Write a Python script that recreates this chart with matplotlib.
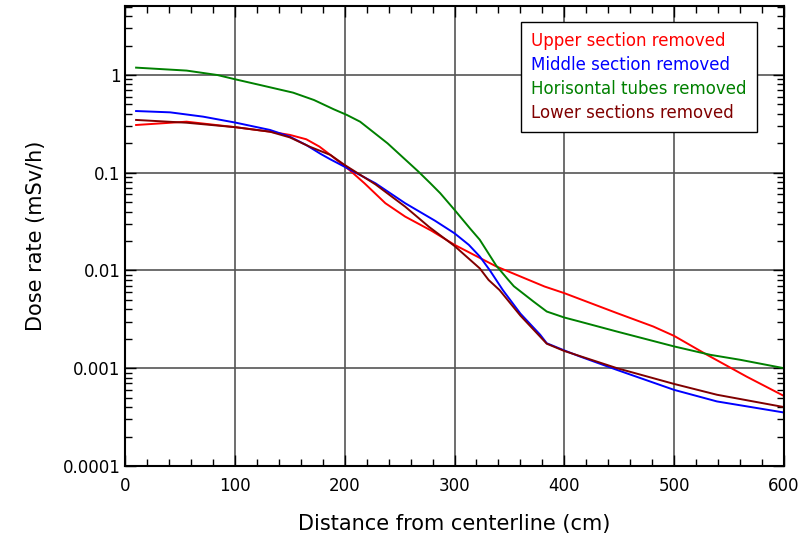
import numpy as np
import matplotlib
matplotlib.use("Agg")
import matplotlib.pyplot as plt
from matplotlib.ticker import FixedLocator, LogLocator, FuncFormatter, MultipleLocator

# distance from centerline (cm) and dose rate (mSv/h)
x_upper = [10, 56, 101, 132, 150, 165, 177, 187, 205, 218, 237, 255, 279, 300, 338, 382, 400,
           448, 481, 500, 530, 566, 600]
y_upper = [0.308, 0.333, 0.292, 0.263, 0.244, 0.22, 0.185, 0.152, 0.105, 0.078, 0.0488, 0.0356,
           0.0255, 0.0183, 0.011, 0.00685, 0.00586, 0.00366, 0.00267, 0.00214, 0.00137, 0.00082, 0.00052]

x_middle = [10, 41, 71, 101, 132, 150, 165, 178, 187, 200, 228, 255, 282, 300, 313, 323, 332, 344,
            360, 378, 384, 400, 414, 448, 500, 539, 600]
y_middle = [0.428, 0.415, 0.375, 0.325, 0.274, 0.234, 0.192, 0.156, 0.137, 0.115, 0.078, 0.0488,
            0.0324, 0.024, 0.0183, 0.0139, 0.0101, 0.0063, 0.00362, 0.0022, 0.0018, 0.00152, 0.00132,
            0.00096, 0.0006, 0.000457, 0.000352]

x_horis = [10, 56, 84, 101, 123, 153, 172, 190, 202, 214, 239, 267, 278, 287, 300, 314, 323, 338,
           349, 354, 372, 384, 400, 414, 448, 500, 533, 560, 600]
y_horis = [1.19, 1.11, 1.0, 0.90, 0.79, 0.66, 0.555, 0.446, 0.39, 0.333, 0.20, 0.103, 0.078, 0.0617,
           0.0417, 0.027, 0.0206, 0.0112, 0.008, 0.0069, 0.0048, 0.0038, 0.0033, 0.003, 0.00237, 0.00167,
           0.00137, 0.00122, 0.001]

x_lower = [10, 56, 101, 132, 150, 168, 187, 200, 228, 255, 277, 300, 323, 331, 341, 360, 378, 384,
           400, 448, 500, 539, 600]
y_lower = [0.347, 0.325, 0.292, 0.263, 0.23, 0.185, 0.152, 0.12, 0.076, 0.045, 0.0278,
           0.0178, 0.0105, 0.008, 0.0063, 0.00345, 0.0021, 0.00178, 0.0015, 0.001, 0.00069, 0.000535, 0.0004]

labels = ["Upper section removed", "Middle section removed",
          "Horisontal tubes removed", "Lower sections removed"]
colors = ["#ff0000", "#0000ff", "#008000", "#800000"]

fig = plt.figure(figsize=(8.02, 5.56), dpi=100)
ax = fig.add_axes([0.156, 0.162, 0.8215, 0.827])

series = [(x_upper, y_upper), (x_middle, y_middle), (x_horis, y_horis), (x_lower, y_lower)]
for (xs, ys), lab, c in zip(series, labels, colors):
    ax.plot(xs, ys, color=c, lw=1.4, label=lab)

ax.set_yscale("log")
ax.set_xlim(0, 600)
ax.set_ylim(1e-4, 5.07)

ax.xaxis.set_major_locator(MultipleLocator(100))
ax.xaxis.set_minor_locator(MultipleLocator(20))
ax.yaxis.set_major_locator(FixedLocator([1e-4, 1e-3, 1e-2, 1e-1, 1]))
ax.yaxis.set_minor_locator(LogLocator(base=10, subs=np.arange(2, 10)))
ax.yaxis.set_major_formatter(FuncFormatter(lambda v, p: {1e-4: "0.0001", 1e-3: "0.001", 1e-2: "0.01",
                                                         1e-1: "0.1", 1: "1"}.get(round(v, 6), "")))

ax.tick_params(which="both", direction="in", top=True, right=True, labelsize=12, colors="black")
ax.tick_params(which="major", length=8, width=1)
ax.tick_params(which="minor", length=5, width=1)
ax.tick_params(axis="x", pad=8)

ax.grid(True, which="major", color="#555555", lw=1.2)
for sp in ax.spines.values():
    sp.set_linewidth(1.5)

ax.set_xlabel("Distance from centerline (cm)", fontsize=15, labelpad=14)
ax.set_ylabel("Dose rate (mSv/h)", fontsize=15, labelpad=12)

leg = ax.legend(loc="upper right", bbox_to_anchor=(0.959, 0.965), borderaxespad=0,
                handlelength=0, handletextpad=0, labelcolor="linecolor", fancybox=False,
                framealpha=1, edgecolor="black", fontsize=12, borderpad=0.6, labelspacing=0.35)
for h in leg.legend_handles:
    h.set_visible(False)
leg.get_frame().set_linewidth(1.0)

fig.savefig("out.png", dpi=100)
